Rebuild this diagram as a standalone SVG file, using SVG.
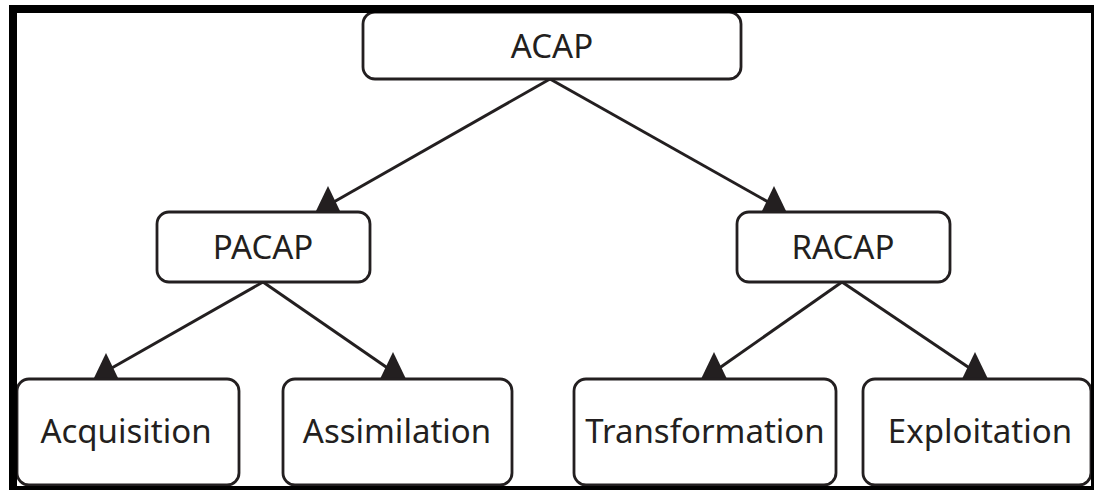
<svg xmlns="http://www.w3.org/2000/svg" width="1094" height="490" viewBox="0 0 1094 490">
<style>
.box{fill:#fff;stroke:#231f20;stroke-width:2.8}
.lbl{font-family:"Noto Sans","Open Sans",sans-serif;font-size:33px;fill:#231f20;text-anchor:middle}
.edge{stroke:#231f20;stroke-width:3;fill:none}
.head{fill:#231f20}
.frame{fill:#000}
</style>
<rect width="1094" height="490" fill="#fff"/>
<g id="connectors">
<line class="edge" x1="550" y1="79" x2="332" y2="203"/>
<line class="edge" x1="550" y1="79" x2="770" y2="203"/>
<line class="edge" x1="263" y1="282" x2="110" y2="369"/>
<line class="edge" x1="263" y1="282" x2="389" y2="369"/>
<line class="edge" x1="842" y1="282" x2="718" y2="369"/>
<line class="edge" x1="842" y1="282" x2="971" y2="369"/>
<polygon class="head" points="328,186 315,213 341,213"/>
<polygon class="head" points="774,186 761,213 787,213"/>
<polygon class="head" points="106,353 93,380 119,380"/>
<polygon class="head" points="393,352 380,379 406,379"/>
<polygon class="head" points="714,352 701,379 727,379"/>
<polygon class="head" points="975,352 962,379 988,379"/>
</g>
<g id="acap"><rect class="box" x="363" y="12" width="378" height="67" rx="12"/><text class="lbl" x="552" y="58">ACAP</text></g>
<g id="pacap"><rect class="box" x="157" y="212" width="213" height="70" rx="12"/><text class="lbl" x="263" y="259">PACAP</text></g>
<g id="racap"><rect class="box" x="737" y="212" width="213" height="70" rx="12"/><text class="lbl" x="843" y="259">RACAP</text></g>
<g id="acquisition"><rect class="box" x="17" y="379" width="222" height="106" rx="12"/><text class="lbl" x="126" y="443">Acquisition</text></g>
<g id="assimilation"><rect class="box" x="283" y="379" width="229" height="106" rx="12"/><text class="lbl" x="397" y="443">Assimilation</text></g>
<g id="transformation"><rect class="box" x="574" y="379" width="262" height="106" rx="12"/><text class="lbl" x="705" y="443">Transformation</text></g>
<g id="exploitation"><rect class="box" x="863" y="379" width="228" height="106" rx="12"/><text class="lbl" x="980" y="443">Exploitation</text></g>
<g id="frame">
<rect class="frame" x="9" y="5" width="1085" height="8"/>
<rect class="frame" x="9" y="5" width="8" height="485"/>
<rect class="frame" x="1091" y="5" width="3" height="485"/>
<rect class="frame" x="9" y="486" width="1085" height="4"/>
</g>
</svg>
